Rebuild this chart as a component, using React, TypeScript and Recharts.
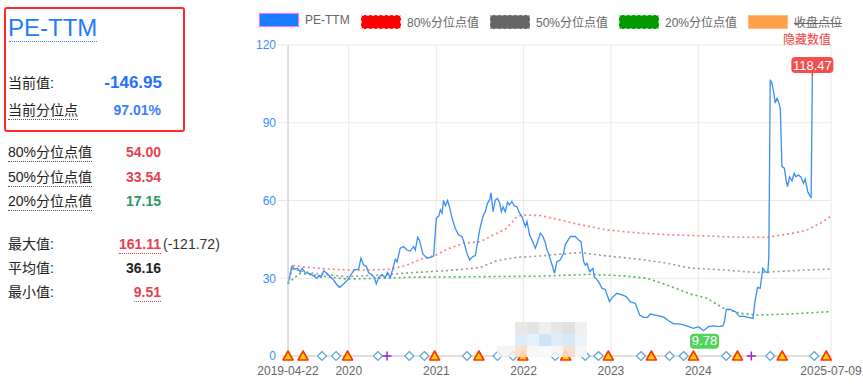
import React from "react";
import {
  ComposedChart,
  Line,
  Scatter,
  XAxis,
  YAxis,
  CartesianGrid,
  ReferenceDot,
} from "recharts";

// ---------------- DATA ----------------
const peTtm: [string, number][] = [
  ["2019-04-22", 27.8], ["2019-05-09", 34.7], ["2019-05-18", 33.5], ["2019-06-01", 33.9], ["2019-06-12", 32.5],
  ["2019-06-20", 33.9], ["2019-07-03", 32.2], ["2019-07-24", 31.7], ["2019-08-07", 30.9], ["2019-08-21", 30.0],
  ["2019-08-28", 31.0], ["2019-09-07", 30.3], ["2019-09-18", 32.9], ["2019-10-02", 31.9], ["2019-10-16", 30.6],
  ["2019-10-30", 29.3], ["2019-11-13", 27.4], ["2019-11-24", 26.5], ["2019-12-10", 27.8], ["2019-12-25", 29.1],
  ["2020-01-10", 31.3], ["2020-01-24", 33.2], ["2020-02-11", 33.4], ["2020-02-21", 37.7], ["2020-03-03", 35.1],
  ["2020-03-14", 34.6], ["2020-03-24", 32.2], ["2020-04-07", 31.3], ["2020-04-17", 30.3], ["2020-04-25", 27.8],
  ["2020-05-05", 30.3], ["2020-05-19", 31.3], ["2020-06-02", 30.3], ["2020-06-11", 32.2], ["2020-06-23", 30.3],
  ["2020-07-14", 37.3], ["2020-07-21", 36.3], ["2020-08-03", 41.6], ["2020-08-17", 42.2], ["2020-08-31", 40.9],
  ["2020-09-14", 40.5], ["2020-09-28", 42.2], ["2020-10-05", 40.9], ["2020-10-15", 45.8], ["2020-10-23", 44.5],
  ["2020-11-06", 39.4], ["2020-11-23", 37.7], ["2020-12-14", 38.2], ["2020-12-21", 38.6],
  ["2021-01-01", 53.2], ["2021-01-11", 54.0], ["2021-01-18", 56.4], ["2021-01-25", 55.1], ["2021-01-31", 60.0],
  ["2021-02-08", 58.0], ["2021-02-17", 60.0], ["2021-02-25", 57.6], ["2021-03-08", 53.2], ["2021-03-21", 49.3],
  ["2021-04-04", 46.7], ["2021-04-18", 46.1], ["2021-04-28", 43.5], ["2021-05-09", 39.6], ["2021-05-20", 37.1],
  ["2021-06-03", 38.4], ["2021-06-13", 38.7], ["2021-07-01", 48.6], ["2021-07-15", 53.8], ["2021-07-25", 55.7],
  ["2021-08-03", 59.0], ["2021-08-12", 60.2], ["2021-08-18", 63.0], ["2021-08-26", 55.7], ["2021-09-05", 60.2],
  ["2021-09-14", 60.8], ["2021-09-23", 59.0], ["2021-09-30", 55.7], ["2021-10-07", 57.6], ["2021-10-16", 55.7],
  ["2021-10-26", 59.3], ["2021-11-03", 58.3], ["2021-11-13", 59.6], ["2021-11-23", 57.9], ["2021-12-04", 57.6],
  ["2021-12-15", 55.1], ["2021-12-25", 53.8],
  ["2022-01-01", 51.9], ["2022-01-08", 50.0], ["2022-01-15", 51.9], ["2022-01-26", 46.7], ["2022-02-05", 44.8],
  ["2022-02-19", 41.6], ["2022-02-28", 44.0], ["2022-03-12", 47.4], ["2022-03-23", 46.1], ["2022-04-02", 43.5],
  ["2022-04-09", 40.9], ["2022-04-15", 39.6], ["2022-04-30", 35.1], ["2022-05-10", 31.9], ["2022-05-20", 36.4],
  ["2022-06-03", 37.0], ["2022-06-17", 39.6], ["2022-06-24", 42.9], ["2022-07-15", 46.1], ["2022-08-05", 46.1],
  ["2022-08-19", 44.8], ["2022-08-29", 44.1], ["2022-09-09", 36.4], ["2022-09-16", 35.1], ["2022-09-23", 35.8],
  ["2022-10-04", 32.5], ["2022-10-18", 33.8], ["2022-10-23", 30.6], ["2022-11-10", 28.7], ["2022-11-25", 26.1],
  ["2022-12-08", 25.7], ["2022-12-26", 21.0],
  ["2023-01-10", 22.9], ["2023-01-26", 24.2], ["2023-02-16", 23.6], ["2023-03-06", 22.9], ["2023-03-23", 21.0],
  ["2023-04-13", 20.3], ["2023-05-01", 15.8], ["2023-05-17", 14.9], ["2023-06-03", 14.9], ["2023-06-14", 16.2],
  ["2023-07-05", 15.8], ["2023-07-26", 15.4], ["2023-08-12", 14.9], ["2023-08-30", 13.6], ["2023-09-20", 12.4],
  ["2023-10-11", 12.4], ["2023-11-01", 12.0], ["2023-11-22", 11.3], ["2023-12-12", 10.7],
  ["2024-01-02", 11.3], ["2024-01-23", 9.78], ["2024-02-13", 11.3], ["2024-03-05", 11.6], ["2024-03-26", 11.3],
  ["2024-04-13", 11.6], ["2024-04-19", 13.0], ["2024-04-27", 18.0], ["2024-05-14", 18.0], ["2024-06-04", 17.1],
  ["2024-06-22", 15.2], ["2024-07-08", 15.4], ["2024-07-29", 14.9], ["2024-08-17", 14.5], ["2024-08-26", 21.6],
  ["2024-09-05", 26.5], ["2024-09-16", 26.1], ["2024-09-27", 33.9], ["2024-10-07", 32.5], ["2024-10-18", 32.2],
  ["2024-10-22", 38.3], ["2024-10-28", 106.6], ["2024-11-04", 105.3], ["2024-11-11", 102.0], ["2024-11-18", 97.6],
  ["2024-11-25", 99.4], ["2024-12-02", 98.0], ["2024-12-09", 95.6], ["2024-12-16", 73.1], ["2024-12-26", 72.5],
  ["2025-01-02", 68.0], ["2025-01-08", 65.4], ["2025-01-17", 69.2], ["2025-01-27", 67.6], ["2025-02-05", 70.5],
  ["2025-02-12", 69.2], ["2025-02-23", 69.8], ["2025-03-06", 69.0], ["2025-03-16", 66.6], ["2025-03-23", 68.3],
  ["2025-04-03", 63.4], ["2025-04-13", 61.5], ["2025-04-17", 61.2], ["2025-04-22", 108.0],
];

const pct80: [string, number][] = [
  ["2019-04-22", 27.8], ["2019-05-09", 35.0], ["2019-07-01", 34.3], ["2019-10-01", 33.6], ["2020-01-01", 33.2],
  ["2020-04-01", 33.2], ["2020-06-23", 33.5], ["2020-08-31", 35.1], ["2020-11-01", 37.5], ["2021-01-01", 39.0],
  ["2021-02-15", 41.2], ["2021-04-25", 43.5], ["2021-07-04", 44.1], ["2021-09-12", 47.4], ["2021-10-23", 49.3],
  ["2021-12-04", 53.8], ["2022-01-01", 54.4], ["2022-03-12", 54.2], ["2022-05-20", 52.8], ["2022-07-29", 51.2],
  ["2022-10-07", 49.9], ["2022-12-15", 48.6], ["2023-05-04", 47.4], ["2023-09-20", 46.7], ["2024-02-06", 46.3],
  ["2024-06-25", 45.8], ["2024-10-14", 45.8], ["2025-02-02", 47.4], ["2025-03-30", 48.6], ["2025-05-25", 51.2],
  ["2025-07-09", 54.0],
];

const pct50: [string, number][] = [
  ["2019-04-22", 27.8], ["2019-05-09", 33.5], ["2019-08-06", 31.9], ["2019-12-25", 30.6], ["2020-05-12", 31.3],
  ["2020-09-27", 32.2], ["2021-02-08", 32.9], ["2021-04-25", 33.5], ["2021-07-04", 34.2], ["2021-09-12", 36.8],
  ["2021-12-04", 38.1], ["2022-03-12", 38.6], ["2022-06-17", 39.4], ["2022-08-26", 39.9], ["2022-12-15", 38.6],
  ["2023-05-04", 37.3], ["2023-08-23", 35.8], ["2023-11-29", 33.9], ["2024-04-16", 33.2], ["2024-09-02", 32.2],
  ["2024-11-11", 32.5], ["2025-03-30", 33.2], ["2025-07-09", 33.54],
];

const pct20: [string, number][] = [
  ["2019-04-22", 27.8], ["2019-05-10", 29.5], ["2019-06-12", 31.9], ["2019-08-06", 31.3], ["2019-10-16", 30.4],
  ["2019-12-25", 29.7], ["2020-05-12", 30.0], ["2020-09-27", 30.4], ["2022-03-12", 30.8], ["2022-10-07", 31.5],
  ["2023-02-23", 30.9], ["2023-06-01", 30.0], ["2023-08-23", 27.4], ["2023-11-29", 23.9], ["2024-02-06", 22.3],
  ["2024-04-16", 18.4], ["2024-06-25", 16.5], ["2024-09-02", 15.8], ["2025-01-20", 16.2], ["2025-07-09", 17.15],
];

const triangleDates = [
  "2019-04-22", "2019-06-24", "2019-12-27", "2020-12-25", "2021-06-28", "2021-12-29", "2022-06-26",
  "2022-12-21", "2023-06-19", "2023-12-12", "2024-06-13", "2024-12-17", "2025-06-19",
];
const diamondDates = [
  "2019-09-11", "2019-11-09", "2020-05-02", "2020-09-10", "2020-11-12", "2021-05-09", "2021-09-14",
  "2021-11-18", "2022-05-13", "2022-09-16", "2022-11-10", "2023-05-07", "2023-09-03", "2023-11-01",
  "2024-04-27", "2024-10-28", "2025-04-30",
];
const plusDates = ["2020-06-09", "2024-08-10"];

const startDate = "2019-04-22";
const endDate = "2025-07-09";
const yearTicks = ["2020-01-01", "2021-01-01", "2022-01-01", "2023-01-01", "2024-01-01"];
const yTicks = [0, 30, 60, 90, 120];

const peakLabel = "118.47";
const troughLabel = "9.78";

const legendItems = [
  { name: "PE-TTM", fill: "#1a7cff", border: "1px solid #ff6bff", hidden: false },
  { name: "80%分位点值", fill: "#ff0000", border: "1px dashed #ffb0b0", hidden: false },
  { name: "50%分位点值", fill: "#666666", border: "1px dashed #aaaaaa", hidden: false },
  { name: "20%分位点值", fill: "#009900", border: "1px dashed #77dd77", hidden: false },
  { name: "收盘点位", fill: "#ffa04a", border: "1px solid #ffbb77", hidden: true },
];

const summaryLabels = {
  current: "当前值:",
  currentValue: "-146.95",
  pctLabel: "当前分位点",
  pctValue: "97.01%",
  p80Label: "80%分位点值",
  p80Value: "54.00",
  p50Label: "50%分位点值",
  p50Value: "33.54",
  p20Label: "20%分位点值",
  p20Value: "17.15",
  maxLabel: "最大值:",
  maxValue: "161.11",
  maxExtra: "(-121.72)",
  avgLabel: "平均值:",
  avgValue: "36.16",
  minLabel: "最小值:",
  minValue: "9.51",
};

// ---------------- HELPERS ----------------
const FONT = '"Liberation Sans", Arial, "Noto Sans CJK SC", sans-serif';
const ts = (s: string) => {
  const [y, m, d] = s.split("-").map(Number);
  return Date.UTC(y, m - 1, d);
};

const rowsMap = new Map<number, Record<string, number>>();
const put = (list: [string, number][], key: string) =>
  list.forEach(([d, v]) => {
    const t = ts(d);
    const r = rowsMap.get(t) ?? { t };
    r[key] = v;
    rowsMap.set(t, r);
  });
put(peTtm, "pe");
put(pct80, "p80");
put(pct50, "p50");
put(pct20, "p20");
const chartData = Array.from(rowsMap.values()).sort((a, b) => a.t - b.t);

const tStart = ts(startDate);
const tEnd = ts(endDate);
const xTicks = [tStart, ...yearTicks.map(ts), tEnd];

const triangleData = triangleDates.map((d) => ({ t: ts(d), y: 0 }));
const diamondData = diamondDates.map((d) => ({ t: ts(d), y: 0 }));
const plusData = plusDates.map((d) => ({ t: ts(d), y: 0 }));

const lastPe = peTtm[peTtm.length - 1];
const minPe = peTtm.reduce((a, b) => (b[1] < a[1] ? b : a));

const fmtX = (t: number) => {
  if (t === tStart) return startDate;
  if (t === tEnd) return endDate;
  return String(new Date(t).getUTCFullYear());
};

const TriangleShape = (p: any) => {
  const { cx, cy } = p;
  return (
    <path
      d={`M${cx},${cy - 5} L${cx + 5},${cy + 4} L${cx - 5},${cy + 4} Z`}
      fill="#ffd200"
      stroke="#ff3300"
      strokeWidth={1.6}
      strokeLinejoin="round"
    />
  );
};
const DiamondShape = (p: any) => {
  const { cx, cy } = p;
  return (
    <path
      d={`M${cx},${cy - 4.5} L${cx + 4.5},${cy} L${cx},${cy + 4.5} L${cx - 4.5},${cy} Z`}
      fill="#ffffff"
      stroke="#5aa4d4"
      strokeWidth={1.2}
    />
  );
};
const PlusShape = (p: any) => {
  const { cx, cy } = p;
  return (
    <path
      d={`M${cx - 4.5},${cy} L${cx + 4.5},${cy} M${cx},${cy - 4.5} L${cx},${cy + 4.5}`}
      stroke="#a020d8"
      strokeWidth={1.5}
      fill="none"
    />
  );
};

const PeakPill = (p: any) => {
  const { cx, cy } = p;
  if (cx == null || cy == null) return null;
  const w = 42;
  const h = 16;
  const top = cy - 19;
  return (
    <g>
      <line x1={cx} y1={top + h} x2={cx} y2={cy} stroke="#ff3333" strokeWidth={1.5} />
      <rect x={cx - w / 2} y={top} width={w} height={h} rx={4} fill="#f54e4e" />
      <text x={cx} y={top + 12.5} textAnchor="middle" fill="#fff" fontSize={13} fontFamily={FONT}>
        {peakLabel}
      </text>
    </g>
  );
};
const TroughPill = (p: any) => {
  const { cx, cy } = p;
  if (cx == null || cy == null) return null;
  const w = 29;
  const h = 15;
  const top = cy + 3;
  return (
    <g>
      <rect x={cx - w / 2 + 1} y={top} width={w} height={h} rx={4} fill="#4fd55b" />
      <text x={cx + 1} y={top + 11.5} textAnchor="middle" fill="#fff" fontSize={13} fontFamily={FONT}>
        {troughLabel}
      </text>
    </g>
  );
};

const PANEL_W = 250;

// text helper positioned by baseline
const T = ({
  x,
  right,
  base,
  size,
  color = "#222",
  weight = 400,
  children,
  underline,
}: any) => {
  const style: React.CSSProperties = {
    position: "absolute",
    top: base - 0.83 * size,
    fontSize: size,
    lineHeight: `${size}px`,
    color,
    fontWeight: weight,
    whiteSpace: "nowrap",
    fontFamily: FONT,
  };
  if (x != null) style.left = x;
  if (right != null) style.right = PANEL_W - right;
  const inner: React.CSSProperties = underline
    ? { borderBottom: `1px dotted ${underline}`, paddingBottom: 1 }
    : {};
  return (
    <div style={style}>
      <span style={inner}>{children}</span>
    </div>
  );
};

const LeftPanel = () => {
  const s = summaryLabels;
  const red = "#e6404e";
  return (
    <div style={{ position: "absolute", left: 0, top: 0, width: PANEL_W, height: 386 }}>
      <div
        style={{
          position: "absolute",
          left: 4,
          top: 7,
          width: 181,
          height: 125,
          border: "2px solid #ff2b2b",
          borderRadius: 3,
          boxSizing: "border-box",
        }}
      />
      <div
        style={{
          position: "absolute",
          left: 8,
          top: 16,
          fontSize: 24,
          lineHeight: "24px",
          color: "#1f7bff",
          fontFamily: FONT,
        }}
      >
        PE-TTM
      </div>
      <div style={{ position: "absolute", left: 9, top: 41, width: 88, borderTop: "1px dotted #3c8cff" }} />
      <T x={8} base={88} size={14}>{s.current}</T>
      <T right={162} base={88} size={17} color="#1f72ff" weight={700}>{s.currentValue}</T>
      <T x={8} base={115} size={14} underline="#555">{s.pctLabel}</T>
      <T right={161} base={115} size={14} color="#3a7dff" weight={700}>{s.pctValue}</T>

      <T x={8} base={157} size={14} underline="#555">{s.p80Label}</T>
      <T right={161} base={157} size={14} color={red} weight={700}>{s.p80Value}</T>
      <T x={8} base={181.5} size={14} underline="#555">{s.p50Label}</T>
      <T right={161} base={181.5} size={14} color={red} weight={700}>{s.p50Value}</T>
      <T x={8} base={206} size={14} underline="#555">{s.p20Label}</T>
      <T right={161} base={206} size={14} color="#2a9a5c" weight={700}>{s.p20Value}</T>

      <T x={8} base={248.5} size={14}>{s.maxLabel}</T>
      <T right={161} base={248.5} size={14} color={red} weight={700} underline={red}>{s.maxValue}</T>
      <T x={163} base={248.5} size={14} color="#333">{s.maxExtra}</T>
      <T x={8} base={272.5} size={14}>{s.avgLabel}</T>
      <T right={161} base={272.5} size={14} color="#222" weight={700}>{s.avgValue}</T>
      <T x={8} base={297} size={14}>{s.minLabel}</T>
      <T right={161} base={297} size={14} color={red} weight={700} underline={red}>{s.minValue}</T>
    </div>
  );
};

const LegendBar = () => {
  const lefts = [259, 361, 490, 619, 748];
  return (
    <>
      {legendItems.map((it, i) => (
        <div
          key={it.name}
          style={{
            position: "absolute",
            left: lefts[i],
            top: 13,
            display: "flex",
            alignItems: "center",
            fontFamily: FONT,
            fontSize: 12,
            color: "#666",
            whiteSpace: "nowrap",
          }}
        >
          <div
            style={{
              width: 40,
              height: 14,
              background: it.fill,
              border: it.border,
              boxSizing: "border-box",
              marginRight: 6,
            }}
          />
          <span style={{ textDecoration: it.hidden ? "line-through" : "none" }}>{it.name}</span>
        </div>
      ))}
      <div
        style={{
          position: "absolute",
          left: 783,
          top: 30,
          fontSize: 12,
          color: "#f03c3c",
          fontFamily: FONT,
        }}
      >
        隐藏数值
      </div>
    </>
  );
};

const wmRows = [
  ["#e4e4e4", "#e0e0e0", "#ececec", "#e3e3e3", "#dedede", "#eeeeee"],
  ["#dce9f7", "#e3eef9", "#c9e0f6", "#dae9f8", "#d3e5f7", "#e8f1fa"],
  ["#f9dcc6", "#f6f6f6", "#f8f8f8", "#f5f5f5", "#fadcc8", "#f6f6f6"],
];
const Watermark = () => (
  <div style={{ position: "absolute", left: 515, top: 322, width: 72, height: 35, pointerEvents: "none" }}>
    {wmRows.map((row, r) =>
      row.map((c, k) => (
        <div
          key={`${r}-${k}`}
          style={{
            position: "absolute",
            left: k * 12,
            top: r * 12,
            width: 12,
            height: r === 2 ? 11 : 12,
            background: c,
            opacity: 0.9,
          }}
        />
      ))
    )}
    <div style={{ position: "absolute", left: -18, top: 24, width: 18, height: 11, background: "#f3f3f3", opacity: 0.8 }} />
  </div>
);

export default function App() {
  return (
    <div
      style={{
        position: "absolute",
        left: 0,
        top: 0,
        width: 863,
        height: 386,
        background: "#fff",
        fontFamily: FONT,
        overflow: "hidden",
      }}
    >
      <ComposedChart
        width={863}
        height={386}
        data={chartData}
        margin={{ top: 45, right: 32, bottom: 0, left: 0 }}
      >
        <CartesianGrid stroke="#e8e8e8" strokeWidth={1} />
        <XAxis
          type="number"
          dataKey="t"
          domain={[tStart, tEnd]}
          ticks={xTicks}
          interval={0}
          tickFormatter={fmtX}
          tick={{ fill: "#666", fontSize: 12, fontFamily: FONT }}
          tickLine={{ stroke: "#e0e0e0" }}
          axisLine={{ stroke: "#cccccc" }}
          tickSize={7}
          tickMargin={3}
          height={30}
        />
        <YAxis
          type="number"
          domain={[0, 120]}
          ticks={yTicks}
          interval={0}
          tick={{ fill: "#3a8ef7", fontSize: 12, fontFamily: FONT }}
          tickLine={{ stroke: "#e6e6e6" }}
          axisLine={{ stroke: "#cccccc" }}
          tickSize={10}
          tickMargin={2}
          width={288}
        />
        <Line dataKey="p80" stroke="#ff7b7b" strokeWidth={1.6} strokeDasharray="2 3" dot={false} connectNulls isAnimationActive={false} />
        <Line dataKey="p50" stroke="#9a9a9a" strokeWidth={1.6} strokeDasharray="2 3" dot={false} connectNulls isAnimationActive={false} />
        <Line dataKey="p20" stroke="#4cb84c" strokeWidth={1.6} strokeDasharray="2 3" dot={false} connectNulls isAnimationActive={false} />
        <Line dataKey="pe" stroke="#3a8ef7" strokeWidth={1.3} dot={false} connectNulls isAnimationActive={false} />
        <Scatter data={diamondData} dataKey="y" shape={<DiamondShape />} isAnimationActive={false} />
        <Scatter data={triangleData} dataKey="y" shape={<TriangleShape />} isAnimationActive={false} />
        <Scatter data={plusData} dataKey="y" shape={<PlusShape />} isAnimationActive={false} />
        <ReferenceDot x={ts(lastPe[0])} y={lastPe[1]} r={0} shape={<PeakPill />} />
        <ReferenceDot x={ts(minPe[0])} y={minPe[1]} r={0} shape={<TroughPill />} />
      </ComposedChart>
      <Watermark />
      <LeftPanel />
      <LegendBar />
    </div>
  );
}
